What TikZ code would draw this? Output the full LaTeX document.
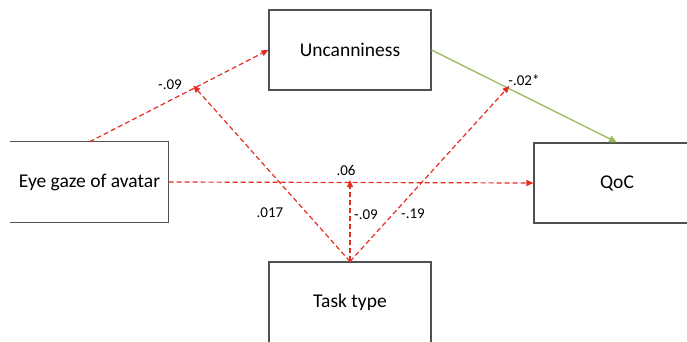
\documentclass[tikz,border=0pt]{standalone}
\usepackage{fontspec}
\setmainfont{Carlito}
\usetikzlibrary{positioning,arrows.meta}
\definecolor{pathred}{RGB}{228,45,35}
\definecolor{pathgreen}{RGB}{155,187,89}
\definecolor{boxgray}{RGB}{80,80,80}

\begin{document}
\begin{tikzpicture}[x=1pt,y=-1pt,font=\fontsize{19.5}{22}\selectfont,
  varbox/.style={minimum width=158pt,minimum height=80pt,inner sep=0pt},
  drawn/.style={draw=boxgray,line width=1.1pt},
  effect/.style={pathred,dashed,dash pattern=on 5pt off 3pt,line width=1.2pt,
    -{Triangle[length=7pt,width=6pt]}},
  sig/.style={pathgreen,line width=1.3pt,-{Triangle[length=8pt,width=7pt]}},
  coef/.style={font=\fontsize{15}{17}\selectfont,inner sep=1pt}]
\useasboundingbox (0,0) rectangle (687,341);
% variables
\node[varbox] (eye) at (89.5,182) {Eye gaze of avatar};
\draw[boxgray,line width=1.1pt] (eye.north west) -- (eye.north east) -- (eye.south east) -- (eye.south west);
\node[varbox,drawn,minimum width=162pt] (unc) at (350,50) {Uncanniness};
\node[varbox,drawn,minimum width=166pt] (qoc) at (617,183) {QoC};
\node[varbox,drawn,minimum width=162pt,minimum height=100pt] (task) at (350,312) {};
\node at (350,302) {Task type};
% paths
\draw[effect] (eye.north) -- coordinate[pos=0.58] (mod1) (unc.west);
\draw[sig] (unc.east) -- coordinate[pos=0.42] (mod2) (qoc.north);
\draw[effect] (eye.east) -- (qoc.west);
\coordinate (mod3) at (task.north |- eye.east);
\draw[effect] (task.north) -- ([yshift=3pt]mod1);
\draw[effect] (task.north) -- ([yshift=3pt]mod2);
\draw[effect] (task.north) -- ([yshift=2pt]mod3);
% coefficients
\node[coef] (c1) at (170,85) {-.09};
\node[coef] (c2) at (524,80) {-.02*};
\node[coef] (c3) at (346,170) {.06};
\node[coef] (c4) at (270,213) {.017};
\node[coef] (c5) at (366,215) {-.09};
\node[coef] (c6) at (413,214) {-.19};
\end{tikzpicture}
\end{document}
